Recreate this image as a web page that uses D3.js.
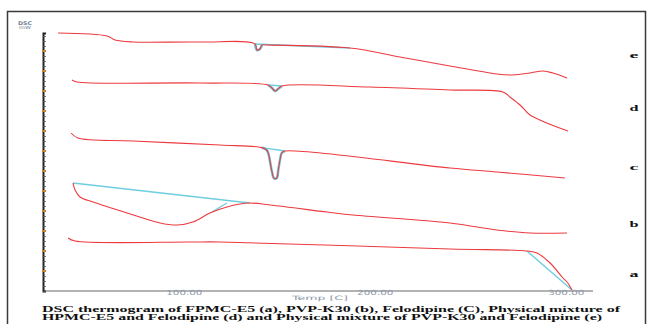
<!DOCTYPE html>
<html>
<head>
<meta charset="utf-8">
<script src="https://cdn.jsdelivr.net/npm/d3@7"></script>
<style>
  html, body { margin: 0; padding: 0; background: #fff; }
  svg { display: block; }
</style>
</head>
<body>
<div class="chart"></div>
<script>
// DSC traces: temperature (C) and heat flow (mW, arbitrary offset)
const aTemp = [39.1, 42.8, 103.0, 118.7, 239.1, 279.4, 284.7, 291.5, 298.3, 300.4, 303.0];
const aHeat = [2.65, 2.5, 2.45, 2.45, 2.1, 2.0, 1.9, 1.4, 0.65, 0.45, 0.05];

const bTemp = [41.7, 42.8, 45.4, 52.2, 70.0, 87.3, 96.2, 104.5, 113.4, 122.3, 132.8, 144.9, 174.7, 188.3, 239.1, 263.7, 281.0, 300.4];
const bHeat = [5.4, 5.05, 4.7, 4.45, 3.9, 3.4, 3.3, 3.45, 3.9, 4.2, 4.4, 4.3, 3.95, 3.8, 3.4, 3.05, 2.9, 2.9];

const cTemp = [40.7, 44.3, 73.1, 118.7, 140.5, 143.1, 144.0, 144.9, 145.7, 147.0, 148.4, 149.2, 150.1, 151.0, 152.7, 239.1, 263.7, 299.3];
const cHeat = [7.9, 7.65, 7.5, 7.3, 7.17, 7.05, 6.88, 6.47, 6.05, 5.63, 5.65, 6.05, 6.55, 6.9, 7.0, 6.15, 5.95, 5.65];

const dTemp = [41.2, 43.8, 108.2, 143.8, 145.9, 147.5, 149.1, 151.1, 197.2, 239.1, 266.9, 270.5, 275.8, 281.0, 286.2, 295.1, 300.9];
const dHeat = [10.55, 10.45, 10.4, 10.3, 10.15, 10.0, 10.1, 10.25, 10.2, 10.05, 9.95, 9.7, 9.3, 8.8, 8.55, 8.2, 8.0];

const eTemp = [33.9, 59.5, 63.7, 73.1, 108.2, 137.0, 138.0, 139.6, 140.7, 143.3, 186.7, 212.9, 239.1, 263.7, 272.1, 281.0, 287.8, 293.0, 300.4];
const eHeat = [12.9, 12.75, 12.55, 12.45, 12.45, 12.35, 12.05, 12.1, 12.3, 12.3, 12.15, 11.7, 11.25, 10.85, 10.8, 10.9, 11.0, 10.9, 10.65];

// baselines / tangents drawn by the analysis software (cyan)
const baseTemp = [[137.0, 186.7], [143.8, 151.1], [140.5, 152.7], [41.7, 134.3], [114.5, 122.3], [279.4, 303.0]];
const baseHeat = [[12.35, 12.15], [10.3, 10.25], [7.17, 7.0], [5.4, 4.4], [3.95, 4.4], [2.0, 0.05]];

const curveNames = ["a", "b", "c", "d", "e"];
const labelHeat = [0.85, 3.35, 6.2, 9.15, 11.8];

const xTicks = [100, 200, 300];
const caption1 = "DSC thermogram of FPMC-E5 (a), PVP-K30 (b), Felodipine (C), Physical mixture of";
const caption2 = "HPMC-E5 and Felodipine (d) and Physical mixture of PVP-K30 and Felodipine (e)";

const zip = (t, h) => t.map((v, i) => ({ t: v, h: h[i] }));
const traces = [zip(aTemp, aHeat), zip(bTemp, bHeat), zip(cTemp, cHeat), zip(dTemp, dHeat), zip(eTemp, eHeat)];
const baselines = baseTemp.map((t, i) => zip(t, baseHeat[i]));

const width = 647;
const height = 324;

const svg = d3
  .select(".chart")
  .append("svg")
  .attr("width", width)
  .attr("height", height);

const x = d3.scaleLinear().domain([26, 314]).range([43, 593]);
const y = d3.scaleLinear().domain([0, 12.9]).range([291, 33]);

// outer frame
svg.append("path")
  .attr("d", "M7.5,330 V11.5 H645.5 V330")
  .attr("fill", "none")
  .attr("stroke", "#3a3a3a")
  .attr("stroke-width", 1.5);

// x axis
svg.append("line")
  .attr("x1", 43).attr("x2", 593)
  .attr("y1", y(0)).attr("y2", y(0))
  .attr("stroke", "#9a9a9a")
  .attr("stroke-width", 1.5);

svg.selectAll(".xlab")
  .data(xTicks)
  .enter()
  .append("text")
  .attr("class", "xlab")
  .attr("x", (d) => x(d))
  .attr("y", y(0) + 4)
  .attr("text-anchor", "middle")
  .attr("textLength", 36)
  .attr("lengthAdjust", "spacingAndGlyphs")
  .style("font-family", "DejaVu Sans")
  .style("font-size", "7px")
  .style("fill", "#8d98a8")
  .text((d) => d3.format(".2f")(d));

svg.append("text")
  .attr("x", 320)
  .attr("y", y(0) + 9)
  .attr("text-anchor", "middle")
  .attr("textLength", 56)
  .attr("lengthAdjust", "spacingAndGlyphs")
  .style("font-family", "DejaVu Sans")
  .style("font-size", "6px")
  .style("fill", "#8d98a8")
  .text("Temp [C]");

// y axis with minor ticks
const yAxis = svg.append("g")
  .attr("transform", "translate(43,0)")
  .call(d3.axisRight(y).tickValues(d3.range(0, 12.9, 0.25)).tickSize(3).tickFormat(""));
yAxis.select(".domain").attr("stroke", "#222").attr("stroke-width", 2);
yAxis.selectAll(".tick line").attr("stroke", "#555").attr("stroke-width", 0.8);

svg.selectAll(".major")
  .data(d3.range(1, 13))
  .enter()
  .append("rect")
  .attr("class", "major")
  .attr("x", 42)
  .attr("y", (d) => y(d) - 1)
  .attr("width", 4)
  .attr("height", 2)
  .attr("fill", "#c8822a");

svg.append("text")
  .attr("x", 25).attr("y", 24.5)
  .attr("text-anchor", "middle")
  .attr("textLength", 14)
  .attr("lengthAdjust", "spacingAndGlyphs")
  .style("font-family", "DejaVu Sans")
  .style("font-weight", "bold")
  .style("font-size", "5px")
  .style("fill", "#6f7f95")
  .text("DSC");
svg.append("text")
  .attr("x", 25).attr("y", 29)
  .attr("text-anchor", "middle")
  .attr("textLength", 12)
  .attr("lengthAdjust", "spacingAndGlyphs")
  .style("font-family", "DejaVu Sans")
  .style("font-size", "4.5px")
  .style("fill", "#6f7f95")
  .text("mW");

const line = d3.line()
  .x((d) => x(d.t))
  .y((d) => y(d.h))
  .curve(d3.curveCatmullRom.alpha(0.5));

// cyan baselines underneath
svg.selectAll(".base")
  .data(baselines)
  .enter()
  .append("path")
  .attr("class", "base")
  .attr("d", d3.line().x((d) => x(d.t)).y((d) => y(d.h)))
  .attr("fill", "none")
  .attr("stroke", "#6fcde0")
  .attr("stroke-width", 1.4);

// cyan shadow on the peaks
svg.selectAll(".peak")
  .data([traces[2].slice(4, 15), traces[3].slice(3, 8), traces[4].slice(5, 9)])
  .enter()
  .append("path")
  .attr("class", "peak")
  .attr("d", line)
  .attr("fill", "none")
  .attr("stroke", "#6fcde0")
  .attr("stroke-width", 2.6);

svg.selectAll(".trace")
  .data(traces)
  .enter()
  .append("path")
  .attr("class", "trace")
  .attr("d", line)
  .attr("fill", "none")
  .attr("stroke", "#ec3a3f")
  .attr("stroke-width", 1.1);

// curve letters
svg.selectAll(".lab")
  .data(curveNames)
  .enter()
  .append("text")
  .attr("class", "lab")
  .attr("x", 634)
  .attr("y", (d, i) => y(labelHeat[i]) + 2.5)
  .attr("text-anchor", "middle")
  .attr("textLength", 9)
  .attr("lengthAdjust", "spacingAndGlyphs")
  .style("font-family", "Liberation Serif")
  .style("font-weight", "bold")
  .style("font-size", "8px")
  .style("fill", "#111")
  .text((d) => d);

// caption
svg.append("text")
  .attr("x", 42).attr("y", 312)
  .attr("textLength", 578)
  .attr("lengthAdjust", "spacingAndGlyphs")
  .style("font-family", "Liberation Serif")
  .style("font-weight", "bold")
  .style("font-size", "7.5px")
  .style("fill", "#111")
  .text(caption1);
svg.append("text")
  .attr("x", 42).attr("y", 319.5)
  .attr("textLength", 560)
  .attr("lengthAdjust", "spacingAndGlyphs")
  .style("font-family", "Liberation Serif")
  .style("font-weight", "bold")
  .style("font-size", "7.5px")
  .style("fill", "#111")
  .text(caption2);
</script>
</body>
</html>
